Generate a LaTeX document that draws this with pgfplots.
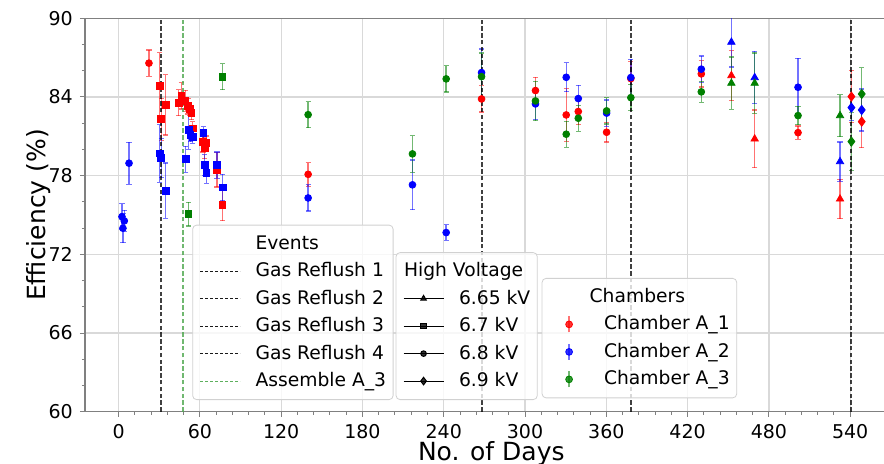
\documentclass[border=0pt]{standalone}
\usepackage{fontspec}
\setmainfont{DejaVu Sans}
\usepackage{pgfplots}
\pgfplotsset{compat=1.18}

\definecolor{cA}{RGB}{255,0,0}
\definecolor{cB}{RGB}{0,0,255}
\definecolor{cC}{RGB}{0,128,0}

\pgfplotsset{
  frame/.style={scale only axis, width=406.3pt, height=196.7pt,
    xmin=-24.8, xmax=575, ymin=60, ymax=90},
  leg/.style={legend cell align=left,
    legend style={draw=black!18, rounded corners=2pt, fill=white, fill opacity=0.8,
      text opacity=1, font=\fontsize{9.35}{11}\selectfont,
      inner xsep=3.5pt, inner ysep=4.5pt, row sep=4.25pt, column sep=7.5pt,
      anchor=south west, nodes={inner sep=0pt, text height=7.5pt, text depth=2pt}}},
  pts/.style={only marks, forget plot,
    error bars/y dir=both, error bars/y explicit,
    error bars/error bar style={line width=0.7pt, opacity=0.55},
    error bars/error mark options={rotate=90, mark size=1.3pt, line width=0.6pt, opacity=0.55}},
  circ/.style={mark=*, mark size=1.7pt},
  sq/.style={mark=square*, mark size=1.7pt},
  tri/.style={mark=triangle*, mark size=2.1pt},
  dia/.style={mark=diamond*, mark size=2.3pt},
  evline/.style={line width=0.9pt, dash pattern=on 2.2pt off 1.2pt,
    legend image code/.code={\draw[##1, opacity=0.9, line width=0.45pt, dash pattern=on 1.6pt off 0.9pt] (0pt,0pt) -- (20pt,0pt);}},
}

\begin{document}
\begin{tikzpicture}
\begin{axis}[frame, leg, name=main,
  xtick={0,60,...,540}, ytick={60,66,...,90},
  minor x tick num=4, minor y tick num=2,
  tick align=outside, tick pos=left,
  major tick length=2.6pt, minor tick length=1.5pt,
  axis line style={black!50, line width=0.6pt},
  every tick/.style={black!50, line width=0.5pt},
  grid=major, major grid style={black!15, line width=0.6pt},
  /pgf/number format/assume math mode=true,
  ticklabel style={font=\fontsize{9.5}{11}\selectfont},
  label style={font=\fontsize{12.5}{15}\selectfont},
  xlabel={No. of Days}, ylabel={Efficiency (\%)},
  xlabel style={at={(axis description cs:0.5,-0.106)}, anchor=center},
  ylabel style={at={(axis description cs:-0.0572,0.5)}, anchor=center},
  legend style={at={(rel axis cs:0.132,0.0297)}},
]
% Chamber A_1
\addplot[pts, circ, cA] coordinates {
 (22.4,86.58) +- (0,1.0) (139.9,78.1) +- (0,0.9) (267.9,83.85) +- (0,1.0)
 (307.7,84.49) +- (0,1.0) (330.4,82.63) +- (0,2.0) (339.3,82.89) +- (0,1.0)
 (360.2,81.31) +- (0,0.75) (378.1,85.4) +- (0,1.3) (430.1,85.76) +- (0,1.0)
 (501.5,81.28) +- (0,0.5)};
\addplot[pts, sq, cA] coordinates {
 (30.3,84.87) +- (0,2.5) (31.5,82.3) +- (0,1.6) (34.7,83.4) +- (0,2.3)
 (44.3,83.57) +- (0,1.0) (46.3,84.08) +- (0,1.0) (49.3,83.7) +- (0,0.8)
 (51.2,83.3) +- (0,0.6) (52.4,83.07) +- (0,0.5) (53.7,82.76) +- (0,0.5)
 (54.7,81.6) +- (0,0.5) (62.3,80.6) +- (0,0.8) (63.5,80.1) +- (0,0.8)
 (64.8,80.52) +- (0,0.5) (72.7,78.44) +- (0,1.3) (76.6,75.77) +- (0,1.2)};
\addplot[pts, tri, cA] coordinates {
 (452.3,85.63) +- (0,1.9) (469.5,80.8) +- (0,2.2) (532.5,76.22) +- (0,1.5)};
\addplot[pts, dia, cA] coordinates {
 (540.9,84.03) +- (0,2.0) (548.5,82.12) +- (0,2.0)};
% Chamber A_2
\addplot[pts, circ, cB] coordinates {
 (2.5,74.87) +- (0,1.0) (4.2,74.55) +- (0,0.8) (3.2,73.99) +- (0,1.1)
 (7.7,78.95) +- (0,1.6) (139.9,76.3) +- (0,1.0) (216.9,77.3) +- (0,1.9)
 (241.8,73.66) +- (0,0.6) (267.9,85.86) +- (0,1.8) (307.7,83.47) +- (0,1.2)
 (330.4,85.5) +- (0,1.1) (339.3,83.88) +- (0,1.0) (360.2,82.77) +- (0,1.0)
 (378.1,85.48) +- (0,1.4) (430.1,86.12) +- (0,1.0) (501.5,84.74) +- (0,2.2)};
\addplot[pts, sq, cB] coordinates {
 (30.3,79.7) +- (0,2.2) (31.5,79.33) +- (0,1.5) (34.7,76.86) +- (0,2.1)
 (49.5,79.25) +- (0,1.0) (51.7,81.5) +- (0,1.5) (53.0,81.1) +- (0,0.5)
 (54.7,80.98) +- (0,0.5) (62.6,81.24) +- (0,0.5) (63.5,78.8) +- (0,0.8)
 (64.8,78.23) +- (0,0.8) (72.7,78.8) +- (0,1.0) (76.8,77.1) +- (0,1.0)};
\addplot[pts, tri, cB] coordinates {
 (452.3,88.18) +- (0,1.9) (469.5,85.48) +- (0,2.0) (532.5,79.07) +- (0,1.5)};
\addplot[pts, dia, cB] coordinates {
 (540.9,83.19) +- (0,1.0) (548.5,83.01) +- (0,1.6)};
% Chamber A_3
\addplot[pts, circ, cC] coordinates {
 (139.9,82.65) +- (0,1.0) (216.9,79.66) +- (0,1.4) (241.8,85.38) +- (0,1.0)
 (267.9,85.55) +- (0,1.8) (307.7,83.7) +- (0,1.5) (330.4,81.16) +- (0,1.0)
 (339.3,82.38) +- (0,1.0) (360.2,82.94) +- (0,1.0) (378.1,83.95) +- (0,1.0)
 (430.1,84.39) +- (0,0.8) (501.5,82.58) +- (0,0.7)};
\addplot[pts, sq, cC] coordinates {
 (51.5,75.06) +- (0,0.9) (76.6,85.55) +- (0,1.0)};
\addplot[pts, tri, cC] coordinates {
 (452.3,85.05) +- (0,2.0) (469.5,85.05) +- (0,2.3) (532.5,82.58) +- (0,1.6)};
\addplot[pts, dia, cC] coordinates {
 (540.9,80.6) +- (0,2.2) (548.5,84.23) +- (0,2.0)};
% events
\addlegendimage{empty legend}
\addlegendentry{Events}
\addplot[evline, black, opacity=0.75] coordinates {(31.5,60) (31.5,90)};
\addlegendentry{Gas Reflush 1}
\addplot[evline, black, opacity=0.75] coordinates {(268,60) (268,90)};
\addlegendentry{Gas Reflush 2}
\addplot[evline, black, opacity=0.75] coordinates {(378.2,60) (378.2,90)};
\addlegendentry{Gas Reflush 3}
\addplot[evline, black, opacity=0.75] coordinates {(540.3,60) (540.3,90)};
\addlegendentry{Gas Reflush 4}
\addplot[evline, cC!70!white, opacity=0.8] coordinates {(47.7,60) (47.7,90)};
\addlegendentry{Assemble A\_3}
\end{axis}

\begin{axis}[frame, leg, hide axis,
  legend style={at={(rel axis cs:0.3823,0.0297)}},
  legend image code/.code={\draw[mark repeat=2, mark phase=2, #1] plot coordinates {(0pt,0pt) (10pt,0pt) (20pt,0pt)};},
]
\addlegendimage{empty legend}
\addlegendentry{\hspace*{-27.5pt}High Voltage}
\addlegendimage{black, line width=0.5pt, mark=triangle*, mark size=1.6pt}
\addlegendentry{6.65 kV}
\addlegendimage{black, line width=0.5pt, mark=square*, mark size=1.4pt}
\addlegendentry{6.7 kV}
\addlegendimage{black, line width=0.5pt, mark=*, mark size=1.4pt}
\addlegendentry{6.8 kV}
\addlegendimage{black, line width=0.5pt, mark=diamond*, mark size=1.9pt}
\addlegendentry{6.9 kV}
\end{axis}

\begin{axis}[frame, leg, hide axis,
  legend style={at={(rel axis cs:0.562,0.0341)}},
  legend image code/.code={\path[draw=none] (0pt,-4pt) rectangle (20pt,4pt); \draw[#1, opacity=0.55, line width=0.7pt] (10pt,-4pt) -- (10pt,4pt); \draw[#1, only marks] plot coordinates {(10pt,0pt)};},
]
\addlegendimage{empty legend}
\addlegendentry{\hspace*{-7.2pt}Chambers}
\addlegendimage{cA, mark=*, mark size=1.7pt}
\addlegendentry{Chamber A\_1}
\addlegendimage{cB, mark=*, mark size=1.7pt}
\addlegendentry{Chamber A\_2}
\addlegendimage{cC, mark=*, mark size=1.7pt}
\addlegendentry{Chamber A\_3}
\end{axis}

\pgfresetboundingbox
\path[use as bounding box] ([xshift=-42.5pt,yshift=-26.15pt]main.south west) rectangle ([xshift=399.5pt,yshift=205.85pt]main.south west);
\end{tikzpicture}
\end{document}
